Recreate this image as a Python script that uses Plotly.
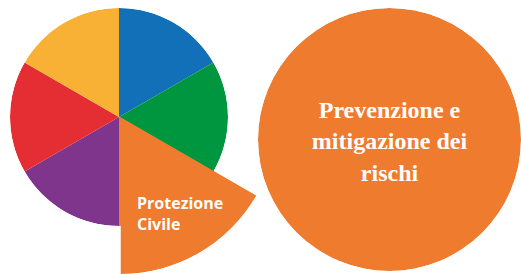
import plotly.graph_objects as go

# Slices of the wheel (clockwise from top)
slice_names = ["Blu", "Verde", "Protezione Civile", "Viola", "Rosso", "Giallo"]
slice_theta = [30, 90, 150, 210, 270, 330]
slice_width = [60, 60, 60, 60, 60, 60]
slice_r = [109, 109, 160, 109, 109, 109]
slice_colors = ["#1170B8", "#00963F", "#EF7B2E", "#7F358B", "#E52E33", "#F8B134"]
highlight = 2  # index of the enlarged slice

label_text = "Protezione<br>Civile"
label_r = [102]
label_theta = [170.5]

big_text = "Prevenzione e<br>mitigazione dei<br>rischi"
big_r = [1]
big_theta = [180]
big_width = [360]
big_color = "#EF7B2E"

W, H = 521, 274

fig = go.Figure()
# all slices (the enlarged one is clipped here at the wheel radius)
fig.add_trace(go.Barpolar(
    r=slice_r, theta=slice_theta, width=slice_width,
    marker=dict(color=slice_colors, line=dict(width=0)),
    text=slice_names, hoverinfo="text", subplot="polar",
))
# enlarged slice drawn in its own sector subplot so it is not clipped
fig.add_trace(go.Barpolar(
    r=[slice_r[highlight]], theta=[slice_theta[highlight]], width=[slice_width[highlight]],
    marker=dict(color=slice_colors[highlight], line=dict(width=0)),
    text=[slice_names[highlight]], hoverinfo="text", subplot="polar3",
))
fig.add_trace(go.Scatterpolar(
    r=label_r, theta=label_theta, mode="text", text=[label_text],
    textposition="middle right",
    textfont=dict(family="Open Sans", size=16, color="white", weight="bold"),
    cliponaxis=False, subplot="polar3", hoverinfo="skip",
))
# big circle
fig.add_trace(go.Barpolar(
    r=big_r, theta=big_theta, width=big_width,
    marker=dict(color=big_color, line=dict(width=0)),
    subplot="polar2", hoverinfo="skip",
))
fig.add_trace(go.Scatterpolar(
    r=[0.03], theta=[180], mode="text", text=[big_text],
    textposition="middle center",
    textfont=dict(family="Liberation Serif", size=24, color="white", weight="bold"),
    cliponaxis=False, subplot="polar2", hoverinfo="skip",
))

cx, cy, R = 119, 117, 109
axis_off = dict(visible=False, showgrid=False, showline=False, showticklabels=False, ticks="")
ang = dict(direction="clockwise", rotation=90, **axis_off)
fig.update_layout(
    width=W, height=H,
    margin=dict(l=0, r=0, t=0, b=0),
    paper_bgcolor="white",
    showlegend=False,
    polar=dict(
        domain=dict(x=[(cx - R) / W, (cx + R) / W], y=[(H - cy - R) / H, (H - cy + R) / H]),
        bgcolor="rgba(0,0,0,0)",
        radialaxis=dict(range=[0, 109], **axis_off),
        angularaxis=ang, bargap=0,
    ),
    polar3=dict(
        domain=dict(x=[cx / W, 258 / W], y=[0, (H - cy) / H]),
        sector=[270, 330],
        bgcolor="rgba(0,0,0,0)",
        radialaxis=dict(range=[0, 160], **axis_off),
        angularaxis=ang, bargap=0,
    ),
    polar2=dict(
        domain=dict(x=[258 / W, 1], y=[1 / H, 268 / H]),
        bgcolor="rgba(0,0,0,0)",
        radialaxis=dict(range=[0, 1], **axis_off),
        angularaxis=ang, bargap=0,
    ),
)

fig.write_html("out.html", config={"displayModeBar": False},
               post_script="document.body.style.margin='0';")
